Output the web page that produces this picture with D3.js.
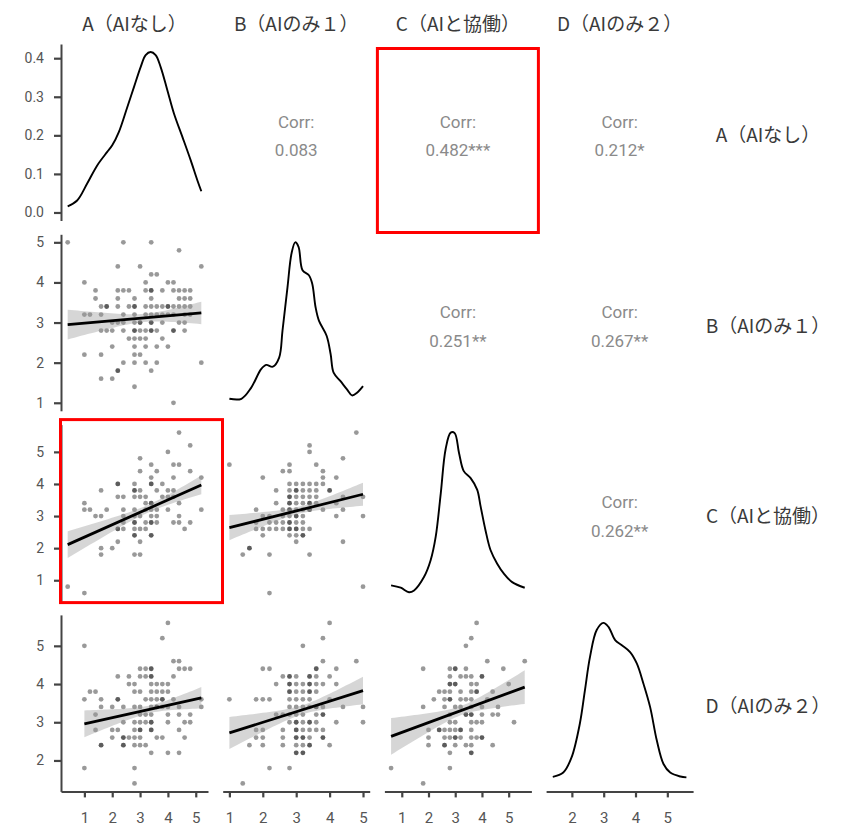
<!DOCTYPE html>
<html><head><meta charset="utf-8">
<script src="https://cdn.jsdelivr.net/npm/d3@7"></script>
<style>body{margin:0;background:#fff}svg{display:block}</style>
</head><body>
<svg id="chart" width="846" height="828"></svg>
<script>
// ---------- data ----------
const vars = ["A","B","C","D"];
const varLabels = ["A（AIなし）","B（AIのみ１）","C（AIと協働）","D（AIのみ２）"];

// kernel density estimates (diagonal)
const densA_x = [0.4,0.74,1.10,1.46,1.82,2.0,2.24,2.54,2.78,3.02,3.2,3.38,3.56,3.74,3.98,4.22,4.52,4.82,5.06,5.2];
const densA_y = [0.016,0.031,0.075,0.122,0.157,0.174,0.209,0.273,0.325,0.377,0.408,0.416,0.408,0.377,0.317,0.256,0.196,0.135,0.083,0.055];
const densB_x = [1.0,1.36,1.65,1.95,2.10,2.30,2.49,2.59,2.74,2.86,2.97,3.07,3.19,3.38,3.48,3.58,3.68,3.91,4.03,4.12,4.32,4.52,4.67,4.82,5.0];
const densB_y = [0.018,0.018,0.067,0.151,0.170,0.162,0.203,0.324,0.520,0.671,0.721,0.701,0.595,0.573,0.535,0.429,0.369,0.301,0.219,0.135,0.098,0.060,0.033,0.045,0.075];
const densC_x = [0.6,0.96,1.27,1.46,1.83,2.08,2.27,2.46,2.64,2.83,2.98,3.14,3.32,3.57,3.82,3.95,4.13,4.32,4.57,4.82,5.13,5.6];
const densC_y = [0.029,0.020,0.003,0.010,0.060,0.123,0.211,0.374,0.538,0.600,0.598,0.525,0.456,0.431,0.387,0.324,0.236,0.161,0.110,0.073,0.041,0.020];
const densD_x = [1.4,1.73,1.99,2.25,2.41,2.57,2.78,2.99,3.15,3.36,3.57,3.83,4.04,4.25,4.46,4.67,4.88,5.09,5.41,5.6];
const densD_y = [0.023,0.038,0.091,0.209,0.326,0.443,0.537,0.562,0.548,0.502,0.484,0.460,0.420,0.349,0.267,0.150,0.068,0.038,0.024,0.021];

// scatter points: [y value, [x values...]]
const pts_A_B = [[5.0,[0.4,2.4,3.4]],[4.8,[4.4]],[4.4,[2.2,3.0,5.2]],[4.2,[3.4,3.6]],[4.0,[1.0,3.2,4.0,4.2]],
 [3.8,[1.4,2.2,2.4,2.6,3.2,3.4,3.4,3.8,4.2,4.4,4.6,4.8]],[3.6,[1.4,2.2,2.8,3.4,4.4,4.6,4.8]],
 [3.4,[1.6,1.8,1.8,2.2,2.6,2.8,2.8,3.2,3.4,3.6,3.8,4.0,4.0,4.2,4.4,4.6,4.8]],
 [3.2,[1.0,1.2,1.6,2.4,2.8,3.2,3.4,3.6,3.8,4.0,4.2,4.6,4.8]],[3.0,[2.0,2.2,2.4,2.8,3.0,3.0,3.4,3.4,3.8,4.4,4.6]],
 [2.8,[1.6,1.8,2.0,2.4,2.8,2.8,3.0,3.2,3.4,3.4,3.6,4.2,4.2,4.6]],[2.6,[2.6,2.8,3.0,3.2,3.8]],[2.4,[2.0,2.8,3.2,3.6,4.0]],
 [2.2,[1.0,1.6,2.8,3.0]],[2.0,[2.4,2.8,3.2,3.6,5.2]],[1.8,[2.2,2.2,3.4]],[1.6,[1.6,2.0]],[1.4,[2.8]],[1.0,[4.2]]];
const pts_A_C = [[5.6,[4.4]],[5.2,[4.8]],[5.0,[4.0]],[4.8,[3.0]],[4.6,[3.4,4.2,4.4]],[4.4,[3.0,3.6,4.8]],[4.2,[3.4,4.2,5.2]],
 [4.0,[2.2,2.2,2.8,3.4,3.4,3.8]],[3.8,[1.6,2.8,2.8,3.0,3.6,4.0,4.2]],[3.6,[2.2,2.4,2.8,3.0,3.2,3.8,4.0,4.2]],
 [3.4,[1.0,3.2,3.4,3.4,4.4]],[3.2,[1.0,1.2,1.8,2.4,2.8,3.2,3.4,3.6,4.0,5.2]],[3.0,[1.4,1.6,2.4,2.8,3.0,3.4,3.6,4.4]],
 [2.8,[2.4,2.8,2.8,3.2,3.4,3.4,3.6,4.2,4.4,4.8]],[2.6,[2.2,2.2,2.4,2.8,3.0,3.2,4.6]],[2.4,[2.8,2.8,3.4,3.4]],
 [2.2,[2.2,3.0]],[2.0,[1.6,2.0]],[1.8,[1.6,2.8,3.0]],[0.8,[0.4]],[0.6,[1.0]]];
const pts_B_C = [[5.6,[4.8]],[5.2,[3.4]],[5.0,[3.4]],[4.8,[4.4]],[4.6,[1.0,2.8,3.6]],[4.4,[2.6,2.8,3.8]],[4.2,[2.0,3.8,4.2]],
 [4.0,[2.8,3.0,3.2,3.4,3.6,3.8]],[3.8,[2.4,2.8,3.0,3.0,3.2,3.4,3.6,4.0,4.0]],[3.6,[2.8,2.8,3.0,3.2,3.4,3.6,4.4,5.0]],
 [3.4,[2.4,2.8,2.8,3.0,3.2,3.4,3.4,3.6,4.2]],[3.2,[1.8,2.6,2.8,2.8,3.0,3.2,3.4,3.4,3.8,4.4]],
 [3.0,[2.0,2.2,2.6,2.8,3.0,3.0,3.2,4.2,5.0]],[2.8,[1.8,2.2,2.4,2.6,2.8,2.8,3.0,3.2]],
 [2.6,[1.8,2.0,2.2,2.4,2.6,2.8,2.8,3.0,3.0,3.2,3.4]],[2.4,[2.0,2.8,3.0,3.2,3.2]],[2.2,[3.0,4.4]],[2.0,[1.6,1.6]],
 [1.8,[1.4,2.2,3.4]],[0.8,[5.0]],[0.6,[2.2]]];
const pts_A_D = [[5.6,[4.0]],[5.2,[3.8]],[5.0,[1.0]],[4.6,[4.2,4.4]],[4.4,[3.0,3.2,3.4,3.4,4.4,4.6,4.8]],
 [4.2,[2.2,2.6,3.0,3.2,3.4,3.4,4.2]],[4.0,[2.6,2.8,3.4,3.6,3.8,4.0]],[3.8,[1.2,1.4,2.8,3.0,3.4,3.6,3.8,4.0]],
 [3.6,[1.0,1.6,2.2,2.2,3.2,3.4,3.6,3.8,3.8,4.2,5.2]],[3.4,[1.6,2.0,2.4,2.8,3.0,3.4,3.6,3.6,3.8,4.0,4.4,5.2]],
 [3.2,[1.4,3.0,3.2,3.4,4.0,4.4,4.8]],[3.0,[2.4,2.8,3.0,3.2,3.4,3.4,4.0,4.6,4.8]],
 [2.8,[1.4,2.0,2.2,2.8,3.0,3.0,3.4,3.4,4.4]],[2.6,[2.0,2.4,2.4,2.6,2.8,3.0,3.6,3.8,4.6]],
 [2.4,[1.6,1.6,2.4,2.4,2.8,3.0,3.2]],[2.2,[3.4,4.0,4.4]],[1.8,[1.0,2.8]],[1.4,[2.8]]];
const pts_B_D = [[5.6,[4.0]],[5.2,[3.8]],[5.0,[3.2]],[4.6,[3.8,4.8]],[4.4,[2.0,2.2,3.6,3.6,4.2]],
 [4.2,[2.6,2.8,2.8,3.0,3.4,3.4,3.6,4.0]],[4.0,[2.4,2.8,2.8,3.0,3.2,3.4,3.4,3.6,3.8,4.2]],
 [3.8,[2.8,2.8,3.0,3.2,3.4,3.4,3.6]],[3.6,[1.0,1.8,2.0,2.2,2.8,3.0,3.2,3.4,4.0]],
 [3.4,[2.8,3.0,3.2,3.4,3.6,3.6,3.8,4.4,5.0]],[3.2,[2.4,2.6,2.8,3.0,3.2,3.6,3.8,3.8]],
 [3.0,[2.8,3.0,3.0,3.2,3.4,3.4,3.6,4.2,5.0]],[2.8,[1.8,2.0,2.6,3.0,3.0,3.2,3.4,3.6,3.8]],
 [2.6,[1.8,2.0,2.6,3.0,3.0,3.2,3.2,3.4,3.8,3.8]],[2.4,[1.6,2.0,2.6,3.0,3.2,3.4,3.4,4.0]],
 [2.2,[3.0,3.0,3.2,3.2]],[1.8,[2.2,2.8]],[1.4,[1.4]]];
const pts_C_D = [[5.6,[3.8]],[5.2,[3.6]],[5.0,[3.4]],[4.6,[4.2,5.6]],[4.4,[1.8,2.8,3.0,3.0,3.4,4.8]],
 [4.2,[2.8,3.2,3.4,3.6,4.0,4.0]],[4.0,[2.8,2.8,3.0,3.0,3.6,3.8,5.0]],[3.8,[2.4,2.6,2.8,3.2,3.6,3.8,3.8,4.4]],
 [3.6,[2.2,2.6,2.8,2.8,3.2,3.4,3.6,4.2]],[3.4,[1.8,2.6,3.0,3.2,3.6,4.0,4.6]],[3.2,[2.8,3.4,3.4,3.6,3.6,4.0,4.4,4.6]],
 [3.0,[2.8,3.0,3.6,3.8,4.0,5.2]],[2.8,[2.0,2.4,2.4,2.6,2.8,3.0,3.2,3.2,3.6]],
 [2.6,[2.0,2.6,2.8,3.0,3.0,3.2,3.6,3.8,4.0,4.0]],[2.4,[2.0,2.6,2.6,3.0,3.4,3.6,4.4]],[2.2,[2.8,3.6,3.6]],
 [1.8,[0.6,2.8]],[1.4,[1.8]]];

// linear fits: [xVar, yVar, x0, x1, yhat(x0), yhat(x1), se-band half width left, min, right]
const fits = [
 ["A","B",0.4,5.2,2.95,3.24,0.37,0.10,0.28],
 ["A","C",0.4,5.2,2.11,3.97,0.42,0.12,0.29],
 ["B","C",1.0,5.0,2.64,3.68,0.39,0.11,0.36],
 ["A","D",1.0,5.2,2.96,3.64,0.35,0.10,0.28],
 ["B","D",1.0,5.0,2.72,3.83,0.42,0.12,0.36],
 ["C","D",0.6,5.6,2.63,3.92,0.48,0.12,0.44]
];
// correlations (upper panels): [rowVar, colVar, text]
const corrs = [["A","B","0.083"],["A","C","0.482***"],["A","D","0.212*"],
               ["B","C","0.251**"],["B","D","0.267**"],["C","D","0.262**"]];
const highlights = [["A","C"],["C","A"]];

// ---------- layout ----------
const L = {left:61, top:44, w:147, h:176.5, dx:161.7, dy:190.3};
const FONT = "Roboto, 'Liberation Sans', Arial, sans-serif";
const JFONT = "'Noto Sans CJK JP', 'Noto Sans', sans-serif";
const svg = d3.select("#chart");
const colX = j => L.left + j*L.dx;
const rowY = i => L.top + i*L.dy;

const dens = {A:[densA_x,densA_y],B:[densB_x,densB_y],C:[densC_x,densC_y],D:[densD_x,densD_y]};
const xS = {}, yS = {}, dS = {};
vars.forEach((v,k)=>{
  const ext = d3.extent(dens[v][0]);
  const pad = (ext[1]-ext[0])*0.05;
  xS[v] = d3.scaleLinear().domain([ext[0]-pad, ext[1]+pad]).range([colX(k), colX(k)+L.w]);
  yS[v] = d3.scaleLinear().domain([ext[0]-pad, ext[1]+pad]).range([rowY(k)+L.h, rowY(k)]);
  const m = d3.max(dens[v][1]);
  dS[v] = d3.scaleLinear().domain([-0.05*m, 1.05*m]).range([rowY(k)+L.h, rowY(k)]);
});

const gMarks = svg.append("g");
// diagonal densities
vars.forEach(v=>{
  const [xs, ys] = dens[v];
  const line = d3.line().x((d,i)=>xS[v](xs[i])).y((d,i)=>dS[v](ys[i])).curve(d3.curveCatmullRom.alpha(0.5));
  gMarks.append("path").attr("d", line(xs)).attr("fill","none").attr("stroke","#000").attr("stroke-width",1.9);
});

// scatter points
const scat = {"A_B":pts_A_B,"A_C":pts_A_C,"B_C":pts_B_C,"A_D":pts_A_D,"B_D":pts_B_D,"C_D":pts_C_D};
Object.entries(scat).forEach(([key, rows])=>{
  const [xv, yv] = key.split("_");
  const flat = [];
  rows.forEach(([yy, xsArr])=>xsArr.forEach(xx=>flat.push([xx,yy])));
  gMarks.append("g").selectAll("circle").data(flat).join("circle")
    .attr("cx",d=>xS[xv](d[0])).attr("cy",d=>yS[yv](d[1])).attr("r",2.4)
    .attr("fill","#000").attr("fill-opacity",0.4);
});

// smooth lines with se bands
fits.forEach(([xv,yv,x0,x1,y0,y1,hL,h0,hR])=>{
  const aL = Math.sqrt(hL*hL-h0*h0), aR = Math.sqrt(hR*hR-h0*h0);
  const k = (aL+aR)/(x1-x0), m = x0 + aL/k;
  const grid = d3.range(0,41).map(i=>x0+(x1-x0)*i/40);
  const yhat = x => y0 + (y1-y0)*(x-x0)/(x1-x0);
  const hw = x => Math.sqrt(h0*h0 + k*k*(x-m)*(x-m));
  const area = d3.area().x(d=>xS[xv](d)).y0(d=>yS[yv](yhat(d)-hw(d))).y1(d=>yS[yv](yhat(d)+hw(d)));
  gMarks.append("path").attr("d",area(grid)).attr("fill","#999").attr("fill-opacity",0.4);
  gMarks.append("line").attr("x1",xS[xv](x0)).attr("x2",xS[xv](x1))
    .attr("y1",yS[yv](y0)).attr("y2",yS[yv](y1)).attr("stroke","#000").attr("stroke-width",2.8);
});

// correlation texts
corrs.forEach(([rv,cv,txt])=>{
  const i = vars.indexOf(rv), j = vars.indexOf(cv);
  const cx = colX(j)+L.w/2, cy = rowY(i)+L.h/2;
  const t = svg.append("text").attr("x",cx).attr("text-anchor","middle")
    .attr("font-family",FONT).attr("font-size",17).attr("fill","#8a8a8a");
  t.append("tspan").attr("x",cx).attr("y",cy-4.5).text("Corr:");
  t.append("tspan").attr("x",cx).attr("y",cy+24).text(txt);
});

// axes
const axisStyle = g=>{
  g.select(".domain").attr("stroke","#444").attr("stroke-width",2);
  g.selectAll(".tick line").attr("stroke","#444").attr("stroke-width",2.2);
  g.selectAll(".tick text").attr("fill","#555").attr("font-family",FONT);
};
vars.forEach((v,i)=>{
  const scale = i===0 ? dS[v] : yS[v];
  const ax = d3.axisLeft(scale).ticks(5).tickSize(7).tickPadding(10).tickSizeOuter(0);
  if(i===0) ax.tickFormat(d3.format(".1f"));
  const g = svg.append("g").attr("transform",`translate(${colX(0)},0)`).call(ax)
    .attr("font-size",14);
  axisStyle(g);
});
vars.forEach((v,j)=>{
  const ax = d3.axisBottom(xS[v]).ticks(5).tickSize(6).tickPadding(15).tickSizeOuter(0);
  const g = svg.append("g").attr("transform",`translate(0,${rowY(3)+L.h})`).call(ax)
    .attr("font-size",15);
  axisStyle(g);
});

// strip labels
varLabels.forEach((lab,k)=>{
  svg.append("text").attr("x",colX(k)+L.w/2).attr("y",31).attr("text-anchor","middle")
    .attr("font-family",JFONT).attr("font-size",19).attr("fill","#3a3a3a").text(lab);
  svg.append("text").attr("x",768).attr("y",rowY(k)+L.h/2+10).attr("text-anchor","middle")
    .attr("font-family",JFONT).attr("font-size",19).attr("fill","#3a3a3a").text(lab);
});

// red highlight boxes
highlights.forEach(([rv,cv])=>{
  const i = vars.indexOf(rv), j = vars.indexOf(cv);
  const padL = i===0 ? 7 : 0.5, padR = i===0 ? 7 : 14.5, padT = i===0 ? -4.5 : 5, padB = i===0 ? 12 : 1.5;
  svg.append("rect").attr("x",colX(j)-padL).attr("y",rowY(i)-padT)
    .attr("width",L.w+padL+padR).attr("height",L.h+padT+padB)
    .attr("fill","none").attr("stroke","#ff0000").attr("stroke-width",3);
});
</script>
</body></html>
